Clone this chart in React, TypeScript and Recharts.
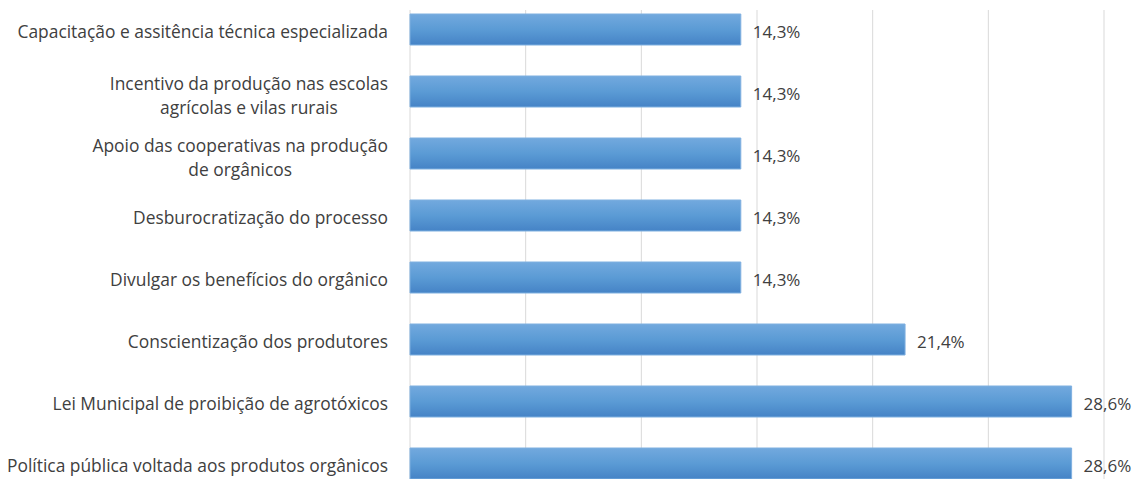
import React from "react";
import { BarChart, Bar, XAxis, YAxis, CartesianGrid, LabelList } from "recharts";

const categories: string[][] = [
  ["Capacitação e assitência técnica especializada"],
  ["Incentivo da produção nas escolas", "agrícolas e vilas rurais"],
  ["Apoio das cooperativas na produção", "de orgânicos"],
  ["Desburocratização do processo"],
  ["Divulgar os benefícios do orgânico"],
  ["Conscientização dos produtores"],
  ["Lei Municipal de proibição de agrotóxicos"],
  ["Política pública voltada aos produtos orgânicos"],
];
const values: number[] = [14.3, 14.3, 14.3, 14.3, 14.3, 21.4, 28.6, 28.6];
const xTicks: number[] = [0, 5, 10, 15, 20, 25, 30];

const data = categories.map((lines, i) => ({ name: lines.join("\n"), value: values[i] }));

const FONT = "'Open Sans', 'Liberation Sans', sans-serif";
const FONT_SIZE = 17.4;
const TEXT = "#404040";

let ctx: CanvasRenderingContext2D | null = null;
function measure(s: string): number {
  if (!ctx) ctx = document.createElement("canvas").getContext("2d");
  if (!ctx) return s.length * 8;
  ctx.font = `${FONT_SIZE}px ${FONT}`;
  return ctx.measureText(s).width;
}

const CatTick = (props: any) => {
  const { x, y, payload } = props;
  const lines: string[] = String(payload.value).split("\n");
  const right = x - 14;
  const w = Math.max(...lines.map(measure));
  const cx = right - w / 2;
  const lh = 24;
  const y0 = y + 2 - ((lines.length - 1) * lh) / 2 + (lines.length > 1 ? 2 : 0);
  return (
    <g>
      {lines.map((l, i) => (
        <text key={i} x={cx} y={y0 + i * lh} dy="0.36em" textAnchor="middle" fill={TEXT} fontSize={FONT_SIZE} fontFamily={FONT}>
          {l}
        </text>
      ))}
    </g>
  );
};

export default function App() {
  return (
    <div style={{ position: "absolute", left: 0, top: 0, width: 1139, height: 479, overflow: "hidden", background: "#fff" }}>
      <div style={{ position: "absolute", left: 0, top: -12 }}>
        <BarChart
          width={1139}
          height={508}
          data={data}
          layout="vertical"
          margin={{ top: 10.5, right: 35, bottom: 1.5, left: 0 }}
          barCategoryGap="25%"
        >
          <defs>
            <linearGradient id="barGrad" x1="0" y1="0" x2="0" y2="1">
              <stop offset="0%" stopColor="#72a9de" />
              <stop offset="50%" stopColor="#5b9bd5" />
              <stop offset="100%" stopColor="#4583c6" />
            </linearGradient>
          </defs>
          <CartesianGrid horizontal={false} stroke="#d9d9d9" strokeWidth={1} y={22} height={484.5} />
          <XAxis type="number" domain={[0, 30]} ticks={xTicks} hide />
          <YAxis
            type="category"
            dataKey="name"
            width={410}
            axisLine={false}
            tickLine={false}
            tick={<CatTick />}
            interval={0}
          />
          <Bar dataKey="value" fill="url(#barGrad)" stroke="#7fb0e0" strokeWidth={1} isAnimationActive={false}>
            <LabelList
              dataKey="value"
              position="right"
              offset={12}
              dy={2}
              formatter={(v: any) => `${Number(v).toFixed(1).replace(".", ",")}%`}
              fill={TEXT}
              fontSize={17}
              fontFamily={FONT}
            />
          </Bar>
        </BarChart>
      </div>
    </div>
  );
}
